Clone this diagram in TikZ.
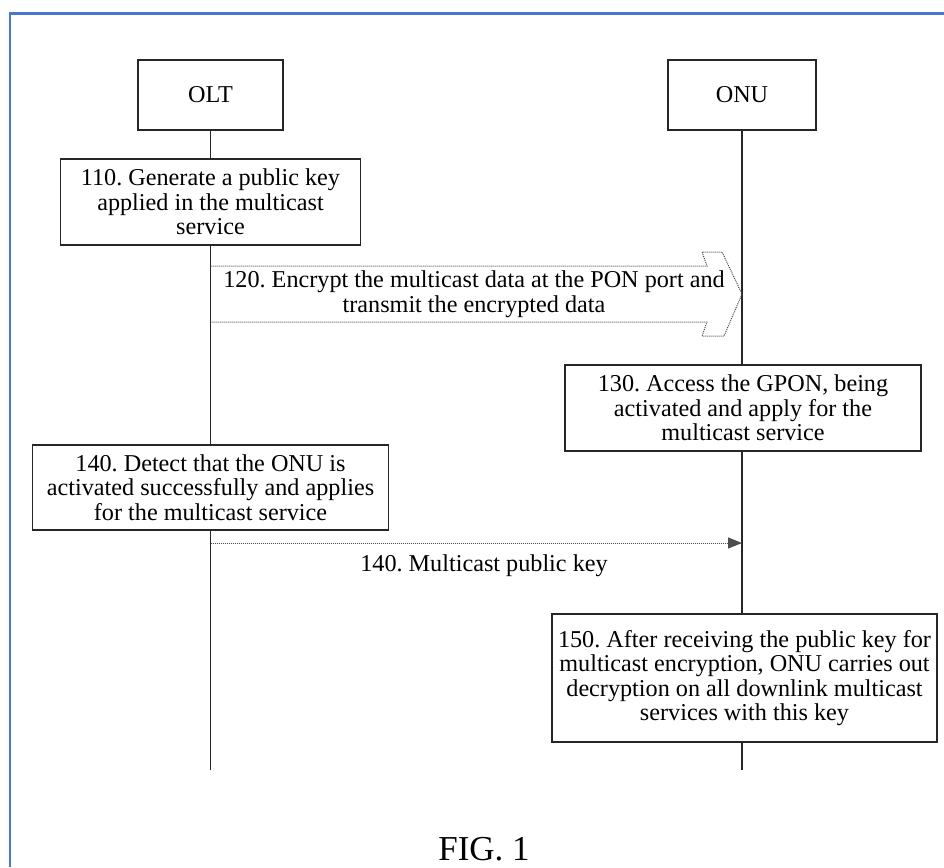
\documentclass[tikz,border=0pt]{standalone}
\usepackage{fontspec}
\setmainfont{Liberation Serif}
\usetikzlibrary{arrows.meta,backgrounds}
\definecolor{frameblue}{RGB}{72,120,205}
\frenchspacing
\begin{document}
\begin{tikzpicture}[x=1pt,y=-1pt,
  every node/.style={font=\fontsize{24.2}{24.6}\selectfont, inner sep=0pt},
  box/.style={draw=black!85, line width=1.4pt, fill=white, align=center, rectangle},
  life/.style={draw=black!85, line width=1.4pt},
  msg/.style={draw=black!70, line width=1pt, densely dotted},
  lbl/.style={align=center}]
\useasboundingbox (0,0) rectangle (944,867);
\draw[frameblue, line width=2.2pt] (10,867) -- (10,13.5) -- (944,13.5);

% actors
\node[box, minimum width=145, minimum height=70] (olt) at (210.5,95) {OLT};
\node[box, minimum width=148, minimum height=70] (onu) at (742,95) {ONU};
\coordinate (oltend) at (210.5,770);
\coordinate (onuend) at (742,770);

% steps
\node[box, minimum width=300, minimum height=86] (b110) at (210.5,202)
  {110. Generate a public key\\applied in the multicast\\service};
\node[box, minimum width=356, minimum height=86] (b130) at (743,408)
  {130. Access the GPON, being\\activated and apply for the\\multicast service};
\node[box, minimum width=356, minimum height=85] (b140) at (210.5,487.5)
  {140. Detect that the ONU is\\activated successfully and applies\\for the multicast service};
\node[box, minimum width=385, minimum height=128] (b150) at (744.5,678)
  {150. After receiving the public key for\\multicast encryption, ONU carries out\\decryption on all downlink multicast\\services with this key};

\begin{scope}[on background layer]
  \draw[life] (olt.south) -- (oltend);
  \draw[life] (onu.south) -- (onuend);
\end{scope}

% 120 block arrow
\coordinate (s120t) at (210.5,266);
\coordinate (s120b) at (210.5,322);
\coordinate (tip120) at (742,294);
\draw[msg] (s120t) -- (707,266) -- (702,252) -- (722,252) -- (tip120)
  -- (724,336) -- (702,336) -- (707,322) -- (s120b);
\node[lbl] (a120) at (474,294)
  {120. Encrypt the multicast data at the PON port and\\transmit the encrypted data};

% 140 message
\coordinate (s140) at (210.5,543);
\coordinate (e140) at (742,543);
\draw[msg, -{Triangle[length=14pt,width=11pt]}] (s140) -- (e140);
\node[lbl] (a140) at (484,566) {140. Multicast public key};

\node[font=\fontsize{35}{36}\selectfont] (fig) at (484,849) {FIG. 1};
\end{tikzpicture}
\end{document}
